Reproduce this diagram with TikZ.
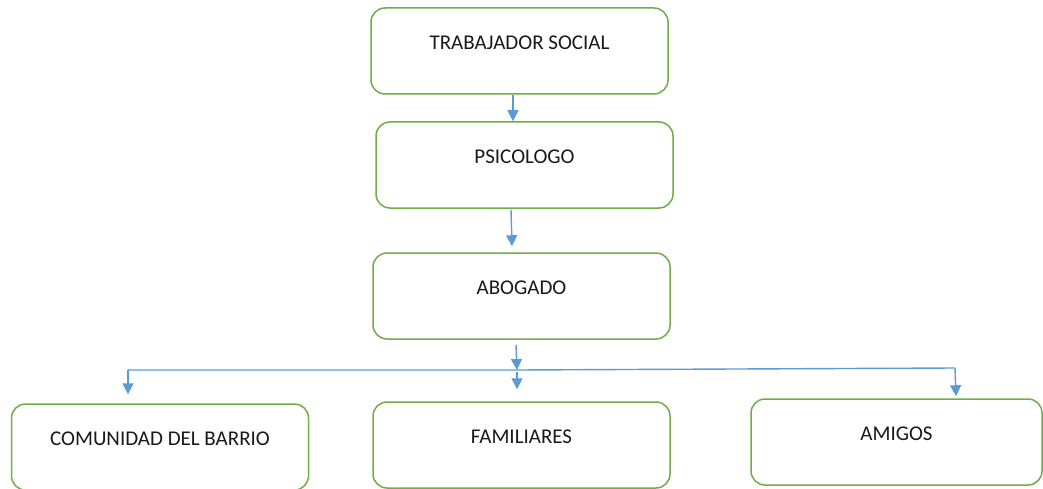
\documentclass[tikz,border=0pt]{standalone}
\usepackage{fontspec}
\setmainfont{Carlito}
\usetikzlibrary{arrows.meta, positioning, calc}

\definecolor{cajaverde}{RGB}{112,173,71}
\definecolor{flechaazul}{RGB}{91,155,213}

\tikzset{
    caja/.style={draw=cajaverde, line width=1.5pt, rounded corners=14pt, fill=white,
        minimum width=297pt, minimum height=86pt, inner sep=0pt,
        text height=13pt, text depth=16pt, font=\fontsize{21}{25}\selectfont, text=black!90},
    flecha/.style={draw=flechaazul, line width=1.4pt, -{Triangle[length=11pt,width=11pt]}},
    linea/.style={draw=flechaazul, line width=1.4pt}
}

\begin{document}
\begin{tikzpicture}[x=1pt, y=-1pt]
    \clip (0,0) rectangle (1043,489);

    % Cajas
    \node[caja] (trab) at (519.5,51) {TRABAJADOR SOCIAL};
    \node[caja] (psic) at (524.5,165) {PSICOLOGO};
    \node[caja] (abog) at (521.5,296) {ABOGADO};
    \node[caja] (comu) at (160,447) {COMUNIDAD DEL BARRIO};
    \node[caja] (fami) at (521.5,445) {FAMILIARES};
    \node[caja, minimum width=291pt] (amig) at (896.5,442) {AMIGOS};

    % Linea horizontal
    \coordinate (bus) at (517,370);
    \coordinate (busizq) at (128,370);
    \coordinate (busder) at (955,368);
    \draw[linea] (busizq) -- (bus) -- (busder);

    % Flechas
    \draw[flecha] ([xshift=-6.5pt]trab.south) -- ([xshift=-11.5pt]psic.north);
    \draw[flecha] ([xshift=-13.5pt,yshift=-1pt]psic.south) -- ([xshift=-9.5pt,yshift=6pt]abog.north);
    \draw[flecha] ([xshift=-5.5pt,yshift=-5pt]abog.south) -- (bus);
    \draw[flecha] (busizq) -- ([xshift=-32pt,yshift=9pt]comu.north);
    \draw[flecha] ([yshift=-2pt]bus) -- ([xshift=-4.5pt,yshift=12pt]fami.north);
    \draw[flecha] (busder) -- ([xshift=59.5pt,yshift=2pt]amig.north);
\end{tikzpicture}
\end{document}
